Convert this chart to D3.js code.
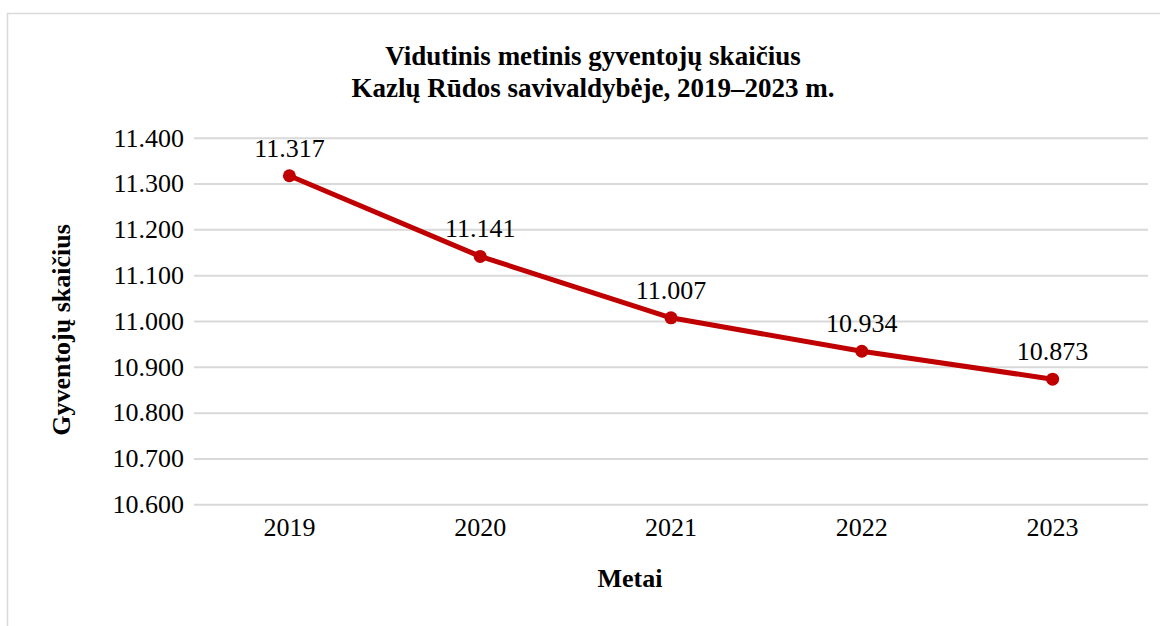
<!DOCTYPE html>
<html><head><meta charset="utf-8">
<script src="https://cdn.jsdelivr.net/npm/d3@7"></script>
<style>svg text{font-family:"Liberation Serif","Times New Roman",Tinos,Times,serif !important;}</style>
</head><body style="margin:0;background:#fff"><svg id="c" width="1160" height="626" style="display:block"></svg>
<script>
const years = ["2019","2020","2021","2022","2023"];
const values = [11317, 11141, 11007, 10934, 10873];
const yTicks = [10600,10700,10800,10900,11000,11100,11200,11300,11400];
const titleLines = ["Vidutinis metinis gyventojų skaičius","Kazlų Rūdos savivaldybėje, 2019–2023 m."];
const yTitle = "Gyventojų skaičius";
const xTitle = "Metai";

const FF = "Liberation Serif";
const fmt = v => d3.format(",")(v).replace(/,/g,".");
const svg = d3.select("#c");
svg.append("rect").attr("x",7.5).attr("y",13.5).attr("width",1200).attr("height",700)
  .attr("fill","#fff").attr("stroke","#d9d9d9").attr("stroke-width",1.5);

const pL=194, pR=1148, pT=137.7, pB=504.3;
const x = d3.scaleBand().domain(years).range([pL,pR]);
const y = d3.scaleLinear().domain([10600,11400]).range([pB,pT]);

const grid = svg.append("g").attr("transform",`translate(${pL},0)`)
  .call(d3.axisLeft(y).tickValues(yTicks).tickSize(-(pR-pL)).tickFormat(fmt).tickPadding(10))
  .attr("font-family",FF).attr("font-size",26);
grid.select(".domain").remove();
grid.selectAll(".tick line").attr("stroke","#d9d9d9").attr("stroke-width",2);
grid.selectAll(".tick text").attr("fill","#000");

const xa = svg.append("g").attr("transform",`translate(0,${pB})`)
  .call(d3.axisBottom(x).tickSize(0).tickPadding(13))
  .attr("font-family",FF).attr("font-size",26);
xa.select(".domain").remove();
xa.selectAll(".tick text").attr("fill","#000");

const pts = years.map((d,i)=>({yr:d,v:values[i]}));
svg.append("path").datum(pts)
  .attr("d",d3.line().x(d=>x(d.yr)+x.bandwidth()/2).y(d=>y(d.v)))
  .attr("fill","none").attr("stroke","#c00000").attr("stroke-width",5).attr("stroke-linejoin","round");
svg.selectAll("circle.pt").data(pts).join("circle").attr("class","pt")
  .attr("cx",d=>x(d.yr)+x.bandwidth()/2).attr("cy",d=>y(d.v)).attr("r",6.5).attr("fill","#c00000");
svg.selectAll("text.lbl").data(pts).join("text").attr("class","lbl")
  .attr("x",d=>x(d.yr)+x.bandwidth()/2).attr("y",d=>y(d.v)-19)
  .attr("text-anchor","middle").attr("font-family",FF).attr("font-size",26).attr("fill","#000").text(d=>fmt(d.v));

svg.selectAll("text.title").data(titleLines).join("text").attr("class","title")
  .attr("x",593).attr("y",(d,i)=>65+i*32).attr("text-anchor","middle")
  .attr("font-family",FF).attr("font-size",27).attr("font-weight","bold").text(d=>d);
svg.append("text").attr("transform","translate(70,330) rotate(-90)").attr("text-anchor","middle")
  .attr("font-family",FF).attr("font-size",26).attr("font-weight","bold").text(yTitle);
svg.append("text").attr("x",630).attr("y",587).attr("text-anchor","middle")
  .attr("font-family",FF).attr("font-size",26).attr("font-weight","bold").text(xTitle);
</script></body></html>
